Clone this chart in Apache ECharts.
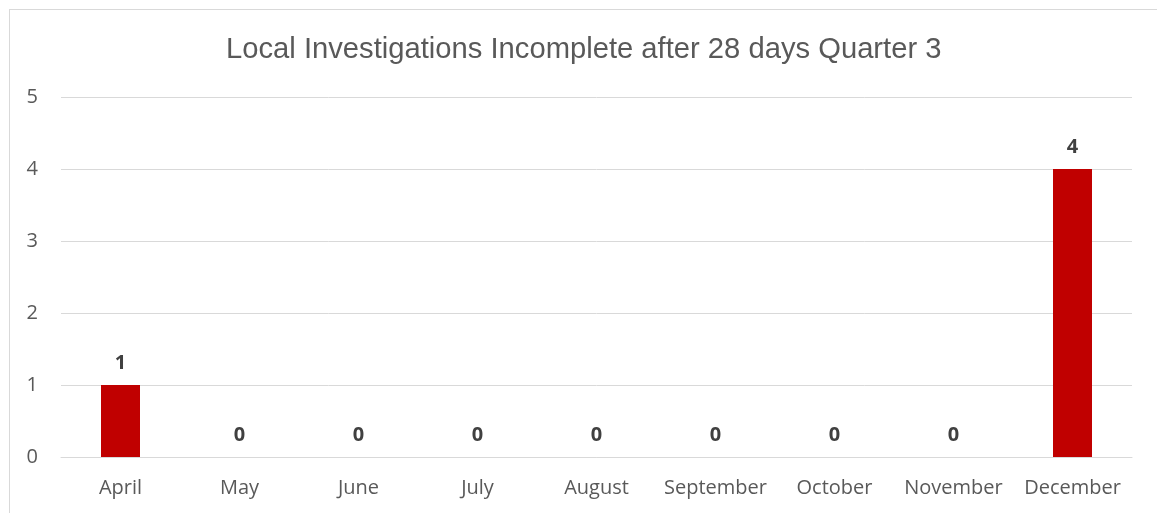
<!DOCTYPE html>
<html>
<head>
<meta charset="utf-8">
<script src="https://cdn.jsdelivr.net/npm/echarts@6/dist/echarts.min.js"></script>
<style>
    html, body { margin: 0; padding: 0; background: #fff; }
    #frame { position: absolute; left: 9px; top: 9px; width: 1160px; height: 520px; border: 1px solid #d9d9d9; }
    #main { position: absolute; left: 0; top: 0; width: 1157px; height: 513px; }
</style>
</head>
<body>
<div id="frame"></div>
<div id="main"></div>
<script>
let months = ['April', 'May', 'June', 'July', 'August', 'September', 'October', 'November', 'December'];
let incomplete = [1, 0, 0, 0, 0, 0, 0, 0, 4];
let yTicks = [0, 1, 2, 3, 4, 5];

let chart = echarts.init(document.querySelector('#main'));

let option = {
    animation: false,
    title: {
        text: 'Local Investigations Incomplete after 28 days Quarter 3',
        left: 221,
        top: 30,
        textStyle: {
            fontFamily: 'Liberation Sans',
            fontSize: 29.2,
            fontWeight: 'normal',
            color: '#595959'
        }
    },
    grid: {
        left: 61,
        right: 25,
        top: 97,
        bottom: 56
    },
    xAxis: {
        type: 'category',
        data: months,
        axisLine: { lineStyle: { color: '#d9d9d9' } },
        axisTick: { show: false },
        axisLabel: {
            interval: 0,
            hideOverlap: false,
            margin: 21,
            fontFamily: 'Open Sans',
            fontSize: 20,
            color: '#595959'
        }
    },
    yAxis: {
        type: 'value',
        min: yTicks[0],
        max: yTicks[yTicks.length - 1],
        interval: 1,
        axisLine: { show: false },
        axisTick: { show: false },
        splitLine: { lineStyle: { color: '#d9d9d9' } },
        axisLabel: {
            margin: 23,
            fontFamily: 'Open Sans',
            fontSize: 20,
            color: '#595959'
        }
    },
    series: [{
        type: 'bar',
        data: incomplete,
        barWidth: 39,
        itemStyle: { color: '#c00000' },
        label: {
            show: true,
            position: 'top',
            distance: 12,
            fontFamily: 'Open Sans',
            fontSize: 20,
            fontWeight: 'bold',
            color: '#404040'
        }
    }]
};
chart.setOption(option);
</script>
</body>
</html>
